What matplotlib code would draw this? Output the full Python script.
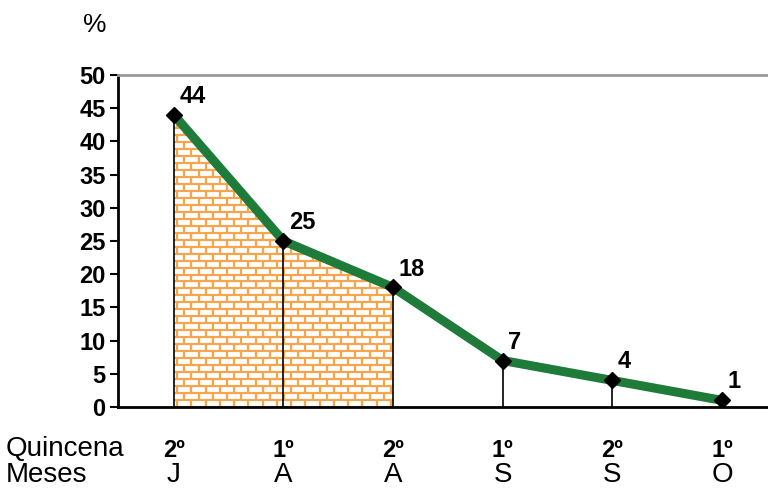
import numpy as np
import matplotlib
matplotlib.use("Agg")
import matplotlib.pyplot as plt
from matplotlib.collections import LineCollection
from matplotlib.patches import Polygon

plt.rcParams['font.family'] = ['Liberation Sans', 'DejaVu Sans']

# data
quincenas = ["2º", "1º", "2º", "1º", "2º", "1º"]
meses = ["J", "A", "A", "S", "S", "O"]
valores = [44, 25, 18, 7, 4, 1]
n_relleno = 3          # points covered by the brick fill
y_ticks = [0, 5, 10, 15, 20, 25, 30, 35, 40, 45, 50]

GREEN = "#1E7B3A"
ORANGE = "#F7A54C"

fig = plt.figure(figsize=(7.68, 4.90), dpi=100)
ax = fig.add_axes([0.1536, 0.1694, 0.8464, 0.6776])

x = np.arange(len(valores))
ax.set_xlim(-0.51, 5.42)
ax.set_ylim(0, 50)

# brick fill under first points
xf = x[:n_relleno]
yf = valores[:n_relleno]
poly_pts = [(xf[0], 0)] + list(zip(xf, yf)) + [(xf[-1], 0)]
poly = Polygon(poly_pts, closed=True, facecolor="white", edgecolor="none", zorder=1)
ax.add_patch(poly)

row_h = 1.05
brick_w = 0.13
segs = []
n_rows = int(max(yf) / row_h) + 2
for r in range(n_rows):
    y0 = r * row_h
    segs.append([(xf[0] - 0.1, y0), (xf[-1] + 0.1, y0)])
    off = 0 if r % 2 == 0 else brick_w / 2
    xv = xf[0] - 0.1 + off
    while xv < xf[-1] + 0.1:
        segs.append([(xv, y0), (xv, y0 + row_h)])
        xv += brick_w
lc = LineCollection(segs, colors=ORANGE, linewidths=1.6, zorder=2)
ax.add_collection(lc)
lc.set_clip_path(poly)

# drop lines
ax.vlines(x, 0, valores, colors="black", linewidth=1.2, zorder=3)

# main line
ax.plot(x, valores, color=GREEN, linewidth=6.5, zorder=4, solid_capstyle="butt")
ax.plot(x, valores, linestyle="none", marker="D", markersize=8,
        color="black", zorder=5)

for xi, v in zip(x, valores):
    ax.annotate(str(v), (xi, v), xytext=(4, 5), textcoords="offset points",
                ha="left", va="bottom", fontsize=17, fontweight="bold")

# axes styling
ax.set_yticks(y_ticks)
ax.set_yticklabels([str(t) for t in y_ticks], fontsize=17, fontweight="bold")
ax.tick_params(axis="y", direction="out", length=6, width=1.5, pad=3)
ax.set_xticks([])
for s in ["left", "bottom"]:
    ax.spines[s].set_linewidth(2)
    ax.spines[s].set_color("black")
ax.spines["right"].set_visible(False)
ax.spines["top"].set_color("#999999")
ax.spines["top"].set_linewidth(2)

fig.text(95 / 768, 1 - 25 / 490, "%", fontsize=19, ha="center", va="center")

# category labels
trans = ax.get_xaxis_transform()
for xi, q, m in zip(x, quincenas, meses):
    ax.text(xi, -0.13, q, transform=trans, ha="center", va="center",
            fontsize=17, fontweight="bold")
    ax.text(xi, -0.205, m, transform=trans, ha="center", va="center",
            fontsize=20)
fig.text(6 / 768, 1 - 449 / 490, "Quincena", fontsize=20, ha="left", va="center")
fig.text(6 / 768, 1 - 475 / 490, "Meses", fontsize=20, ha="left", va="center")

fig.savefig("out.png", dpi=100)
